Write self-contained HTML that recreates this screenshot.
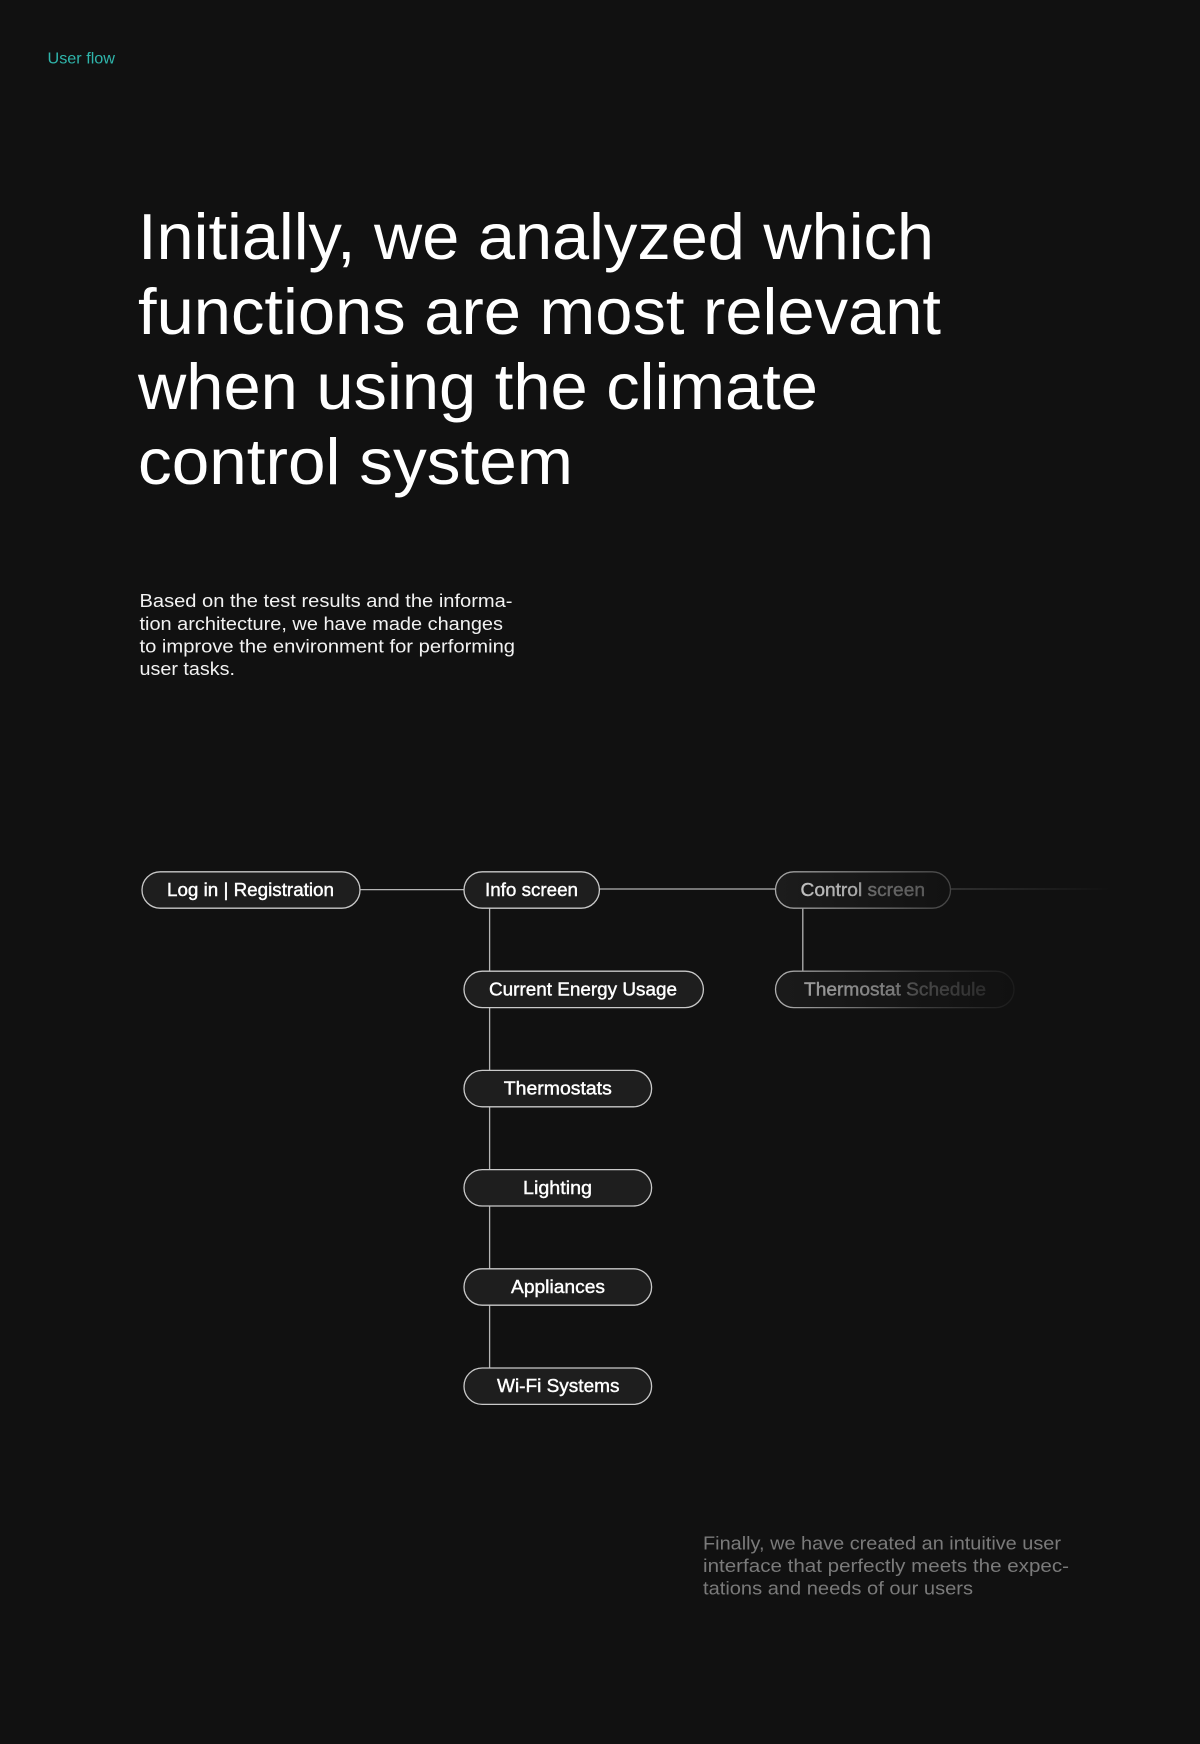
<!DOCTYPE html>
<html>
<head>
<meta charset="utf-8">
<style>
html,body{margin:0;padding:0;background:#111111;width:1200px;height:1744px;overflow:hidden}
svg{display:block}
text{font-family:"Liberation Sans",sans-serif}
.h{font-size:65px;fill:#fff}
.p{font-size:18px;fill:#f2f2f2}
.q{font-size:18px;fill:#7a7a7a}
.n{font-size:18px;fill:#fff;stroke:#fff;stroke-width:.4}
.b{fill:#1e1e1e;stroke:#c9c9c9;stroke-width:1.3}
.l{stroke:#b4b4b4;stroke-width:1.3;fill:none}
</style>
</head>
<body>
<svg width="1200" height="1744" viewBox="0 0 1200 1744" xmlns="http://www.w3.org/2000/svg">
<defs>
<linearGradient id="sc" gradientUnits="userSpaceOnUse" x1="775" y1="0" x2="950" y2="0"><stop offset="0" stop-color="#a8a8a8"/><stop offset="1" stop-color="#444444"/></linearGradient>
<linearGradient id="fc" gradientUnits="userSpaceOnUse" x1="775" y1="0" x2="950" y2="0"><stop offset="0" stop-color="#1c1c1c"/><stop offset="1" stop-color="#121212"/></linearGradient>
<linearGradient id="tc" gradientUnits="userSpaceOnUse" x1="800" y1="0" x2="925" y2="0"><stop offset="0" stop-color="#c0c0c0"/><stop offset=".45" stop-color="#a8a8a8"/><stop offset=".55" stop-color="#6a6a6a"/><stop offset="1" stop-color="#5a5a5a"/></linearGradient>
<linearGradient id="st" gradientUnits="userSpaceOnUse" x1="775" y1="0" x2="1014" y2="0"><stop offset="0" stop-color="#b0b0b0"/><stop offset=".6" stop-color="#404040"/><stop offset="1" stop-color="#1c1c1c"/></linearGradient>
<linearGradient id="ft" gradientUnits="userSpaceOnUse" x1="775" y1="0" x2="1014" y2="0"><stop offset="0" stop-color="#1a1a1a"/><stop offset="1" stop-color="#111111"/></linearGradient>
<linearGradient id="tt" gradientUnits="userSpaceOnUse" x1="804" y1="0" x2="986" y2="0"><stop offset="0" stop-color="#a0a0a0"/><stop offset=".5" stop-color="#787878"/><stop offset=".6" stop-color="#4c4c4c"/><stop offset="1" stop-color="#2c2c2c"/></linearGradient>
<linearGradient id="lf" gradientUnits="userSpaceOnUse" x1="950" y1="0" x2="1110" y2="0"><stop offset="0" stop-color="#444444"/><stop offset="1" stop-color="#111111"/></linearGradient>
</defs>

<rect width="1200" height="1744" fill="#111111"/>

<text x="47.5" y="63.5" font-size="16" fill="#2fb5ab" textLength="67.5" lengthAdjust="spacingAndGlyphs">User flow</text>

<text class="h" x="138" y="259" textLength="796" lengthAdjust="spacingAndGlyphs">Initially, we analyzed which</text>
<text class="h" x="138" y="334" textLength="803" lengthAdjust="spacingAndGlyphs">functions are most relevant</text>
<text class="h" x="138" y="409" textLength="680" lengthAdjust="spacingAndGlyphs">when using the climate</text>
<text class="h" x="138" y="484" textLength="435" lengthAdjust="spacingAndGlyphs">control system</text>

<text class="p" x="139.5" y="607" textLength="373" lengthAdjust="spacingAndGlyphs">Based on the test results and the informa-</text>
<text class="p" x="139.5" y="630" textLength="363.5" lengthAdjust="spacingAndGlyphs">tion architecture, we have made changes</text>
<text class="p" x="139.5" y="652.5" textLength="375.5" lengthAdjust="spacingAndGlyphs">to improve the environment for performing</text>
<text class="p" x="139.5" y="675" textLength="95.5" lengthAdjust="spacingAndGlyphs">user tasks.</text>

<!-- connectors -->
<line class="l" x1="360" y1="889.6" x2="464" y2="889.6"/>
<line class="l" x1="599" y1="889" x2="775" y2="889"/>
<rect x="951" y="888.4" width="160" height="1.2" fill="url(#lf)"/>
<line class="l" x1="489.6" y1="908" x2="489.6" y2="1368"/>
<line class="l" x1="802.8" y1="908" x2="802.8" y2="971"/>

<!-- nodes -->
<rect class="b" x="142" y="871.8" width="218" height="36.4" rx="18.2"/>
<text class="n" x="167" y="896" textLength="167" lengthAdjust="spacingAndGlyphs">Log in | Registration</text>

<rect class="b" x="464" y="871.8" width="135.4" height="36.4" rx="18.2"/>
<text class="n" x="485" y="896" textLength="93" lengthAdjust="spacingAndGlyphs">Info screen</text>

<rect x="775.5" y="871.8" width="175" height="36.4" rx="18.2" fill="url(#fc)" stroke="url(#sc)" stroke-width="1.3"/>
<text x="800.5" y="896" font-size="18" fill="url(#tc)" stroke="url(#tc)" stroke-width=".4" textLength="124.5" lengthAdjust="spacingAndGlyphs">Control screen</text>

<rect class="b" x="464" y="971.2" width="239.4" height="36.4" rx="18.2"/>
<text class="n" x="489" y="995.4" textLength="188" lengthAdjust="spacingAndGlyphs">Current Energy Usage</text>

<rect x="775.5" y="971.2" width="238.5" height="36.4" rx="18.2" fill="url(#ft)" stroke="url(#st)" stroke-width="1.3"/>
<text x="804" y="995.4" font-size="18" fill="url(#tt)" stroke="url(#tt)" stroke-width=".4" textLength="182" lengthAdjust="spacingAndGlyphs">Thermostat Schedule</text>

<rect class="b" x="464" y="1070.4" width="187.6" height="36.4" rx="18.2"/>
<text class="n" x="503.8" y="1094.6" textLength="108" lengthAdjust="spacingAndGlyphs">Thermostats</text>

<rect class="b" x="464" y="1169.6" width="187.6" height="36.4" rx="18.2"/>
<text class="n" x="523" y="1193.8" textLength="69" lengthAdjust="spacingAndGlyphs">Lighting</text>

<rect class="b" x="464" y="1268.8" width="187.6" height="36.4" rx="18.2"/>
<text class="n" x="511" y="1293" textLength="94" lengthAdjust="spacingAndGlyphs">Appliances</text>

<rect class="b" x="464" y="1368" width="187.6" height="36.4" rx="18.2"/>
<text class="n" x="497" y="1392.2" textLength="122.5" lengthAdjust="spacingAndGlyphs">Wi-Fi Systems</text>

<text class="q" x="703" y="1549.5" textLength="358" lengthAdjust="spacingAndGlyphs">Finally, we have created an intuitive user</text>
<text class="q" x="703" y="1572" textLength="366" lengthAdjust="spacingAndGlyphs">interface that perfectly meets the expec-</text>
<text class="q" x="703" y="1594.5" textLength="270" lengthAdjust="spacingAndGlyphs">tations and needs of our users</text>
</svg>
</body>
</html>
